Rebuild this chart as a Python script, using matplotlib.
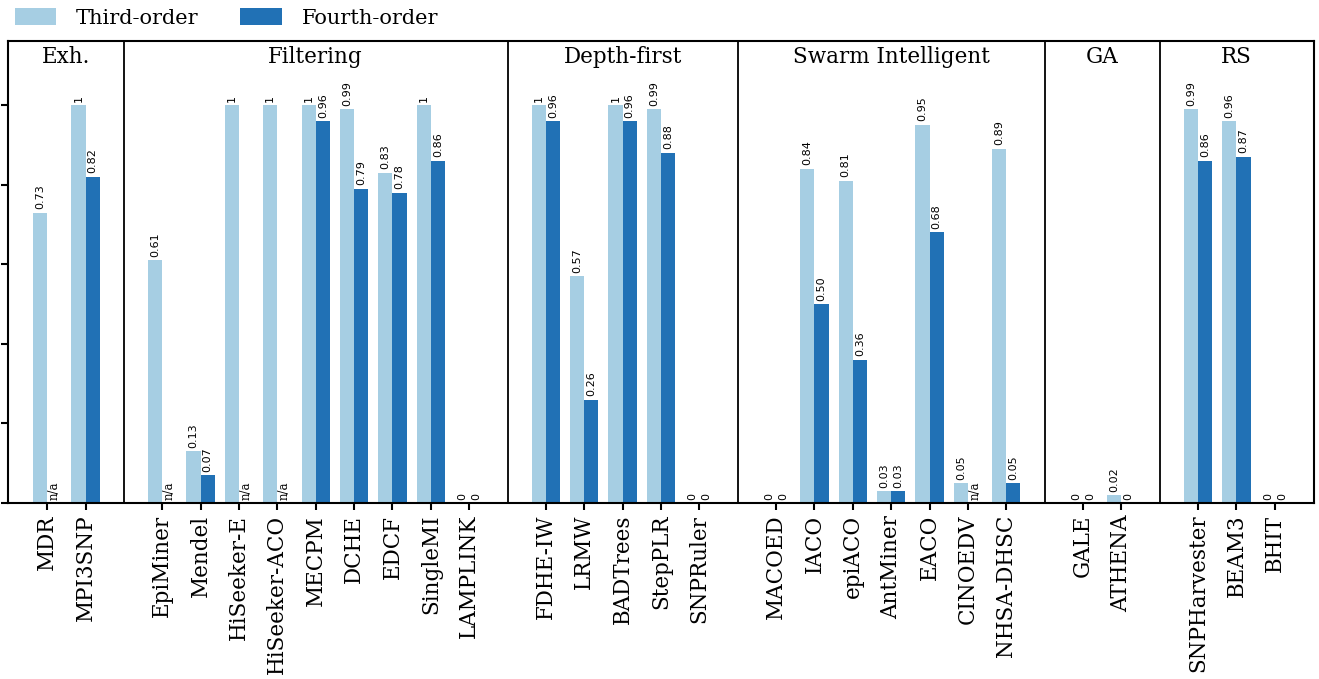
import matplotlib
matplotlib.use("Agg")
import matplotlib.pyplot as plt
import numpy as np

groups = ["Exh.", "Filtering", "Depth-first", "Swarm Intelligent", "GA", "RS"]
group_sizes = [2, 9, 5, 7, 2, 3]
methods = ["MDR", "MPI3SNP",
           "EpiMiner", "Mendel", "HiSeeker-E", "HiSeeker-ACO", "MECPM", "DCHE", "EDCF", "SingleMI", "LAMPLINK",
           "FDHE-IW", "LRMW", "BADTrees", "StepPLR", "SNPRuler",
           "MACOED", "IACO", "epiACO", "AntMiner", "EACO", "CINOEDV", "NHSA-DHSC",
           "GALE", "ATHENA",
           "SNPHarvester", "BEAM3", "BHIT"]
third = [0.73, 1.0,
         0.61, 0.13, 1.0, 1.0, 1.0, 0.99, 0.83, 1.0, 0.0,
         1.0, 0.57, 1.0, 0.99, 0.0,
         0.0, 0.84, 0.81, 0.03, 0.95, 0.05, 0.89,
         0.0, 0.02,
         0.99, 0.96, 0.0]
fourth = [None, 0.82,
          None, 0.07, None, None, 0.96, 0.79, 0.78, 0.86, 0.0,
          0.96, 0.26, 0.96, 0.88, 0.0,
          0.0, 0.50, 0.36, 0.03, 0.68, None, 0.05,
          0.0, 0.0,
          0.86, 0.87, 0.0]

def fmt(v):
    if v is None:
        return "n/a"
    if v == 0 or v == 1:
        return str(int(v))
    return f"{v:.2f}"

LIGHT = "#a6cee3"
DARK = "#2171b5"

plt.rcParams['font.family'] = ['DejaVu Serif']

fig = plt.figure(figsize=(13.19, 6.79), dpi=100)
ax = fig.add_axes([8/1319, 1-503/679, (1314-8)/1319, (503-41)/679])

# positions with a gap slot between groups
positions = []
seps = []
group_centers = []
p = 0
for gi, n in enumerate(group_sizes):
    start = p
    for k in range(n):
        positions.append(p)
        p += 1
    group_centers.append((start + p - 1) / 2)
    if gi < len(group_sizes) - 1:
        seps.append(p)
        p += 1
positions = np.array(positions, dtype=float)

w = 0.37
t_vals = np.array(third)
f_vals = np.array([0 if v is None else v for v in fourth])
ax.bar(positions - w/2, t_vals, w, color=LIGHT, label="Third-order")
ax.bar(positions + w/2, f_vals, w, color=DARK, label="Fourth-order")

for x, v in zip(positions, third):
    ax.annotate(fmt(v), (x - w/2, v), xytext=(0, 2.5), textcoords="offset points",
                rotation=90, ha="center", va="bottom", fontsize=8, family="DejaVu Sans")
for x, v in zip(positions, fourth):
    if v is None:
        ax.annotate("n/a", (x + w/2, 0), xytext=(0, 2), textcoords="offset points",
                    rotation=90, ha="center", va="bottom", fontsize=8.5, family="DejaVu Serif")
    else:
        ax.annotate(fmt(v), (x + w/2, v), xytext=(0, 2.5), textcoords="offset points",
                    rotation=90, ha="center", va="bottom", fontsize=8, family="DejaVu Sans")

for s in seps:
    ax.axvline(s, color="black", lw=1.3)

for name, c in zip(groups, group_centers):
    ax.text(c, 1.12, name, ha="center", va="center", fontsize=15.5)

ax.set_xlim(-1.02, p + 0.02)
ax.set_ylim(0, 1.161)
ax.set_yticks(np.arange(0, 1.01, 0.2))
ax.set_yticklabels([])
ax.set_xticks(positions)
ax.set_xticklabels(methods, rotation=90, fontsize=15.5)
ax.tick_params(axis="both", direction="out", length=5, width=1.5)
for sp in ax.spines.values():
    sp.set_linewidth(1.5)

fig.legend(loc="upper left", bbox_to_anchor=(0.0, 1.01), ncol=2, frameon=False,
           fontsize=15, handlelength=2.0, handleheight=0.9, handletextpad=0.95,
           columnspacing=2.0, borderaxespad=0.3)

fig.savefig("out.png", dpi=100)
